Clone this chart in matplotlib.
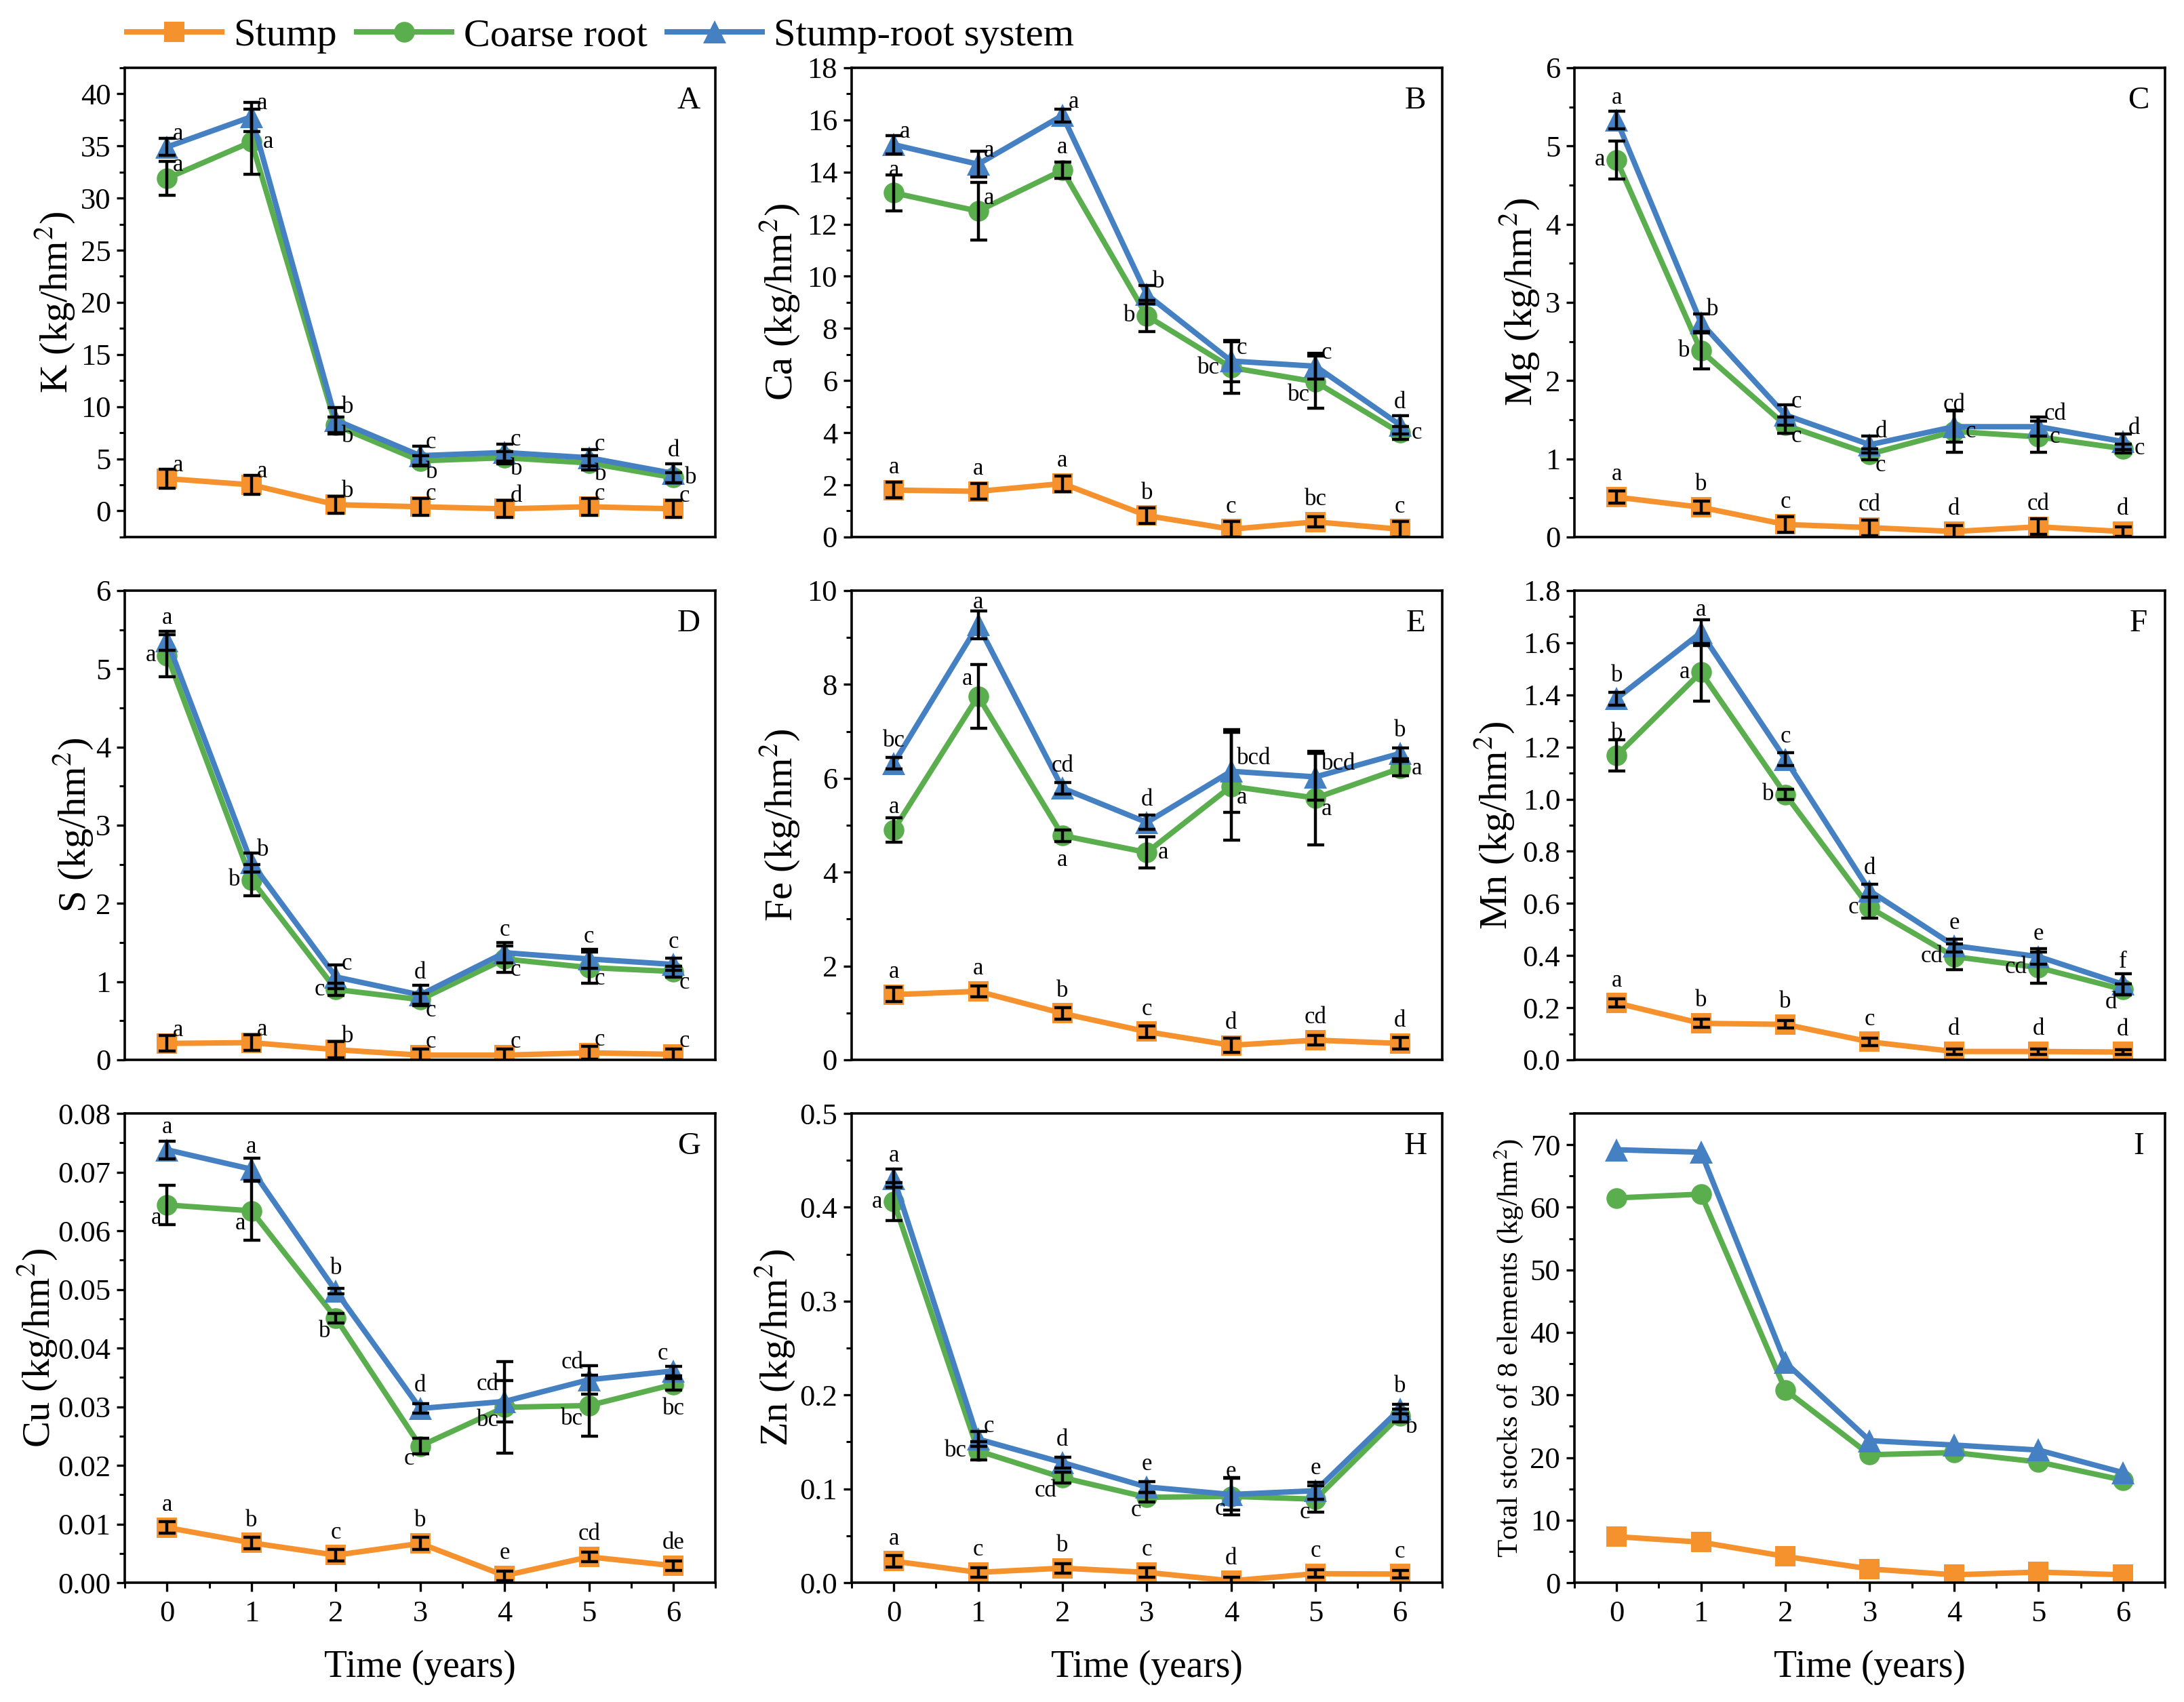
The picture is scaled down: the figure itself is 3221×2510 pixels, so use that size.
import matplotlib.pyplot as plt
from matplotlib.ticker import MultipleLocator, FormatStrFormatter
from matplotlib.lines import Line2D

plt.rcParams['font.family'] = ['Liberation Serif', 'DejaVu Serif']
plt.rcParams['mathtext.fontset'] = 'stix'

years = [0, 1, 2, 3, 4, 5, 6]
seriesNames = ['Stump', 'Coarse root', 'Stump-root system']

# K
kStump = [3.1, 2.5, 0.6, 0.4, 0.2, 0.4, 0.2]
kCoarse = [31.9, 35.4, 8.2, 4.8, 5.1, 4.6, 3.2]
kSystem = [34.9, 37.8, 8.7, 5.3, 5.6, 5.1, 3.6]
kStumpErr = [0.9, 0.9, 0.8, 0.8, 0.8, 0.8, 0.8]
kCoarseErr = [1.6, 3.1, 0.8, 0.5, 0.6, 0.7, 0.5]
kSystemErr = [0.8, 1.4, 1.2, 0.9, 0.8, 0.8, 0.9]
kLetters = [['a', 'a', 'b', 'c', 'd', 'c', 'c'],
            ['a', 'a', 'b', 'b', 'b', 'b', 'b'],
            ['a', 'a', 'b', 'c', 'c', 'c', 'd']]

# Ca
caStump = [1.8, 1.75, 2.05, 0.82, 0.3, 0.58, 0.3]
caCoarse = [13.2, 12.5, 14.07, 8.48, 6.5, 5.95, 4.0]
caSystem = [15.05, 14.3, 16.17, 9.3, 6.75, 6.55, 4.3]
caStumpErr = [0.3, 0.3, 0.3, 0.3, 0.3, 0.2, 0.3]
caCoarseErr = [0.7, 1.1, 0.3, 0.6, 1.0, 1.0, 0.25]
caSystemErr = [0.35, 0.5, 0.25, 0.35, 0.8, 0.5, 0.35]
caLetters = [['a', 'a', 'a', 'b', 'c', 'bc', 'c'],
             ['a', 'a', 'a', 'b', 'bc', 'bc', 'c'],
             ['a', 'a', 'a', 'b', 'c', 'c', 'd']]

# Mg
mgStump = [0.51, 0.38, 0.16, 0.12, 0.07, 0.13, 0.07]
mgCoarse = [4.82, 2.38, 1.43, 1.06, 1.35, 1.28, 1.13]
mgSystem = [5.33, 2.74, 1.56, 1.18, 1.41, 1.41, 1.22]
mgStumpErr = [0.08, 0.08, 0.1, 0.1, 0.08, 0.1, 0.06]
mgCoarseErr = [0.24, 0.23, 0.1, 0.07, 0.27, 0.2, 0.06]
mgSystemErr = [0.11, 0.11, 0.13, 0.11, 0.2, 0.12, 0.1]
mgLetters = [['a', 'b', 'c', 'cd', 'd', 'cd', 'd'],
             ['a', 'b', 'c', 'c', 'c', 'c', 'c'],
             ['a', 'b', 'c', 'd', 'cd', 'cd', 'd']]

# S
sStump = [0.21, 0.22, 0.13, 0.06, 0.06, 0.09, 0.07]
sCoarse = [5.17, 2.30, 0.90, 0.77, 1.29, 1.18, 1.13]
sSystem = [5.36, 2.52, 1.06, 0.83, 1.37, 1.29, 1.22]
sStumpErr = [0.1, 0.1, 0.1, 0.08, 0.08, 0.08, 0.07]
sCoarseErr = [0.27, 0.2, 0.08, 0.08, 0.17, 0.2, 0.07]
sSystemErr = [0.12, 0.12, 0.15, 0.12, 0.13, 0.12, 0.08]
sLetters = [['a', 'a', 'b', 'c', 'c', 'c', 'c'],
            ['a', 'b', 'c', 'c', 'c', 'c', 'c'],
            ['a', 'b', 'c', 'd', 'c', 'c', 'c']]

# Fe
feStump = [1.39, 1.46, 0.99, 0.60, 0.31, 0.42, 0.35]
feCoarse = [4.90, 7.75, 4.78, 4.42, 5.83, 5.58, 6.21]
feSystem = [6.32, 9.27, 5.79, 5.06, 6.15, 6.03, 6.53]
feStumpErr = [0.15, 0.12, 0.12, 0.12, 0.15, 0.1, 0.12]
feCoarseErr = [0.26, 0.68, 0.12, 0.33, 1.15, 1.0, 0.15]
feSystemErr = [0.12, 0.3, 0.12, 0.15, 0.88, 0.5, 0.12]
feLetters = [['a', 'a', 'b', 'c', 'd', 'cd', 'd'],
             ['a', 'a', 'a', 'a', 'a', 'a', 'a'],
             ['bc', 'a', 'cd', 'd', 'bcd', 'bcd', 'b']]

# Mn
mnStump = [0.218, 0.14, 0.136, 0.069, 0.032, 0.032, 0.03]
mnCoarse = [1.167, 1.487, 1.018, 0.584, 0.396, 0.354, 0.27]
mnSystem = [1.386, 1.639, 1.153, 0.648, 0.438, 0.396, 0.29]
mnStumpErr = [0.015, 0.015, 0.015, 0.015, 0.01, 0.01, 0.01]
mnCoarseErr = [0.06, 0.11, 0.02, 0.04, 0.05, 0.06, 0.02]
mnSystemErr = [0.025, 0.05, 0.025, 0.025, 0.025, 0.03, 0.04]
mnLetters = [['a', 'b', 'b', 'c', 'd', 'd', 'd'],
             ['b', 'a', 'b', 'c', 'cd', 'cd', 'd'],
             ['b', 'a', 'c', 'd', 'e', 'e', 'f']]

# Cu
cuStump = [0.0094, 0.0068, 0.0047, 0.0067, 0.0012, 0.0044, 0.0029]
cuCoarse = [0.0644, 0.0634, 0.0451, 0.0233, 0.0299, 0.0302, 0.0338]
cuSystem = [0.0738, 0.0705, 0.0497, 0.0297, 0.0309, 0.0346, 0.0361]
cuStumpErr = [0.001, 0.001, 0.001, 0.001, 0.0008, 0.0008, 0.0008]
cuCoarseErr = [0.0033, 0.005, 0.0008, 0.0013, 0.0078, 0.0052, 0.001]
cuSystemErr = [0.0015, 0.0019, 0.0005, 0.0008, 0.0035, 0.0024, 0.0008]
cuLetters = [['a', 'b', 'c', 'b', 'e', 'cd', 'de'],
             ['a', 'a', 'b', 'c', 'bc', 'bc', 'bc'],
             ['a', 'a', 'b', 'd', 'cd', 'cd', 'c']]

# Zn
znStump = [0.023, 0.011, 0.0155, 0.011, 0.002, 0.0096, 0.0092]
znCoarse = [0.406, 0.1405, 0.112, 0.091, 0.092, 0.089, 0.178]
znSystem = [0.431, 0.153, 0.128, 0.102, 0.094, 0.098, 0.185]
znStumpErr = [0.006, 0.005, 0.005, 0.005, 0.004, 0.004, 0.004]
znCoarseErr = [0.02, 0.01, 0.006, 0.005, 0.02, 0.014, 0.007]
znSystemErr = [0.01, 0.008, 0.006, 0.006, 0.017, 0.009, 0.005]
znLetters = [['a', 'c', 'b', 'c', 'd', 'c', 'c'],
             ['a', 'bc', 'cd', 'c', 'c', 'c', 'b'],
             ['a', 'c', 'd', 'e', 'e', 'e', 'b']]

# Total stocks of 8 elements
totStump = [7.36, 6.48, 4.2, 2.2, 1.26, 1.7, 1.26]
totCoarse = [61.5, 62.1, 30.8, 20.45, 20.8, 19.3, 16.4]
totSystem = [69.2, 68.8, 35.2, 22.7, 22.0, 21.2, 17.6]

colors = ['#F6922E', '#5BAE4D', '#4480C2']
markers = ['s', 'o', '^']
markerSizes = [10.5, 11, 12.5]

# where each significance letter sits relative to its point
offsets = {
    'u': (0, 6, 'center', 'bottom'),
    'ur': (3, 1, 'left', 'bottom'),
    'r': (6, 0, 'left', 'center'),
    'lr': (3, 0, 'left', 'top'),
    'd': (0, -7, 'center', 'top'),
    'll': (-3, -1, 'right', 'top'),
    'l': (-6, 0, 'right', 'center'),
    'ul': (-3, 3, 'right', 'bottom'),
}

panels = [
    dict(tag='A', ylabel='K (kg/hm$^2$)', data=[kStump, kCoarse, kSystem],
         err=[kStumpErr, kCoarseErr, kSystemErr], letters=kLetters,
         pos=['ur ur ur ur ur ur ur', 'ur r lr lr lr lr r', 'ur ur ur ur ur ur u'],
         ylim=(-2.5, 42.5), major=5, fmt='%d', labx=-0.117),
    dict(tag='B', ylabel='Ca (kg/hm$^2$)', data=[caStump, caCoarse, caSystem],
         err=[caStumpErr, caCoarseErr, caSystemErr], letters=caLetters,
         pos=['u u u u u u u', 'u ur u l l ll r', 'ur ur ur ur ur ur u'],
         ylim=(0, 18), major=2, fmt='%d', labx=-0.12),
    dict(tag='C', ylabel='Mg (kg/hm$^2$)', data=[mgStump, mgCoarse, mgSystem],
         err=[mgStumpErr, mgCoarseErr, mgSystemErr], letters=mgLetters,
         pos=['u u u u u u u', 'l l lr lr r r r', 'u ur ur ur u ur ur'],
         ylim=(0, 6), major=1, fmt='%d', labx=-0.092),
    dict(tag='D', ylabel='S (kg/hm$^2$)', data=[sStump, sCoarse, sSystem],
         err=[sStumpErr, sCoarseErr, sSystemErr], letters=sLetters,
         pos=['ur ur ur ur ur ur ur', 'l l l lr lr lr lr', 'u ur ur u u u u'],
         ylim=(0, 6), major=1, fmt='%d', labx=-0.087),
    dict(tag='E', ylabel='Fe (kg/hm$^2$)', data=[feStump, feCoarse, feSystem],
         err=[feStumpErr, feCoarseErr, feSystemErr], letters=feLetters,
         pos=['u u u u u u u', 'u ul d r lr lr r', 'u u u u ur ur u'],
         ylim=(0, 10), major=2, fmt='%d', labx=-0.12),
    dict(tag='F', ylabel='Mn (kg/hm$^2$)', data=[mnStump, mnCoarse, mnSystem],
         err=[mnStumpErr, mnCoarseErr, mnSystemErr], letters=mnLetters,
         pos=['u u u u u u u', 'u l l l l l ll', 'u u u u u u u'],
         ylim=(0, 1.8), major=0.2, fmt='%.1f', labx=-0.135),
    dict(tag='G', ylabel='Cu (kg/hm$^2$)', data=[cuStump, cuCoarse, cuSystem],
         err=[cuStumpErr, cuCoarseErr, cuSystemErr], letters=cuLetters,
         pos=['u u u u u u u', 'll ll ll ll ll ll d', 'u u u u ul ul ul'],
         ylim=(0, 0.08), major=0.01, fmt='%.2f', labx=-0.147),
    dict(tag='H', ylabel='Zn (kg/hm$^2$)', data=[znStump, znCoarse, znSystem],
         err=[znStumpErr, znCoarseErr, znSystemErr], letters=znLetters,
         pos=['u u u u u u u', 'l l ll ll ll ll lr', 'u ur u u u u u'],
         ylim=(0, 0.5), major=0.1, fmt='%.1f', labx=-0.128),
    dict(tag='I', ylabel='Total stocks of 8 elements (kg/hm$^2$)',
         data=[totStump, totCoarse, totSystem], err=None, letters=None, pos=None,
         ylim=(0, 75), major=10, fmt='%d', labx=-0.111),
]

fig = plt.figure(figsize=(16.105, 12.55), dpi=200)

colLefts = [0.0572, 0.3899, 0.7209]
rowBottoms = [0.6845, 0.3773, 0.0701]
axW, axH = 0.2704, 0.2757

for i, p in enumerate(panels):
    row, col = divmod(i, 3)
    ax = fig.add_axes([colLefts[col], rowBottoms[row], axW, axH])

    for s in range(3):
        ax.plot(years, p['data'][s], color=colors[s], marker=markers[s],
                markersize=markerSizes[s], markeredgewidth=0, linewidth=2.9,
                zorder=2 + s)
        if p['err'] is not None:
            ax.errorbar(years, p['data'][s], yerr=p['err'][s], fmt='none',
                        ecolor='black', elinewidth=1.6, capsize=4.5, capthick=1.6,
                        zorder=6)
        if p['letters'] is not None:
            codes = p['pos'][s].split()
            for x, y, txt, code in zip(years, p['data'][s], p['letters'][s], codes):
                dx, dy, ha, va = offsets[code]
                ax.annotate(txt, (x, y), xytext=(dx, dy), textcoords='offset points',
                            ha=ha, va=va, fontsize=12.5, zorder=8)

    ax.set_xlim(-0.5, 6.5)
    ax.set_ylim(*p['ylim'])
    ax.yaxis.set_major_locator(MultipleLocator(p['major']))
    ax.yaxis.set_minor_locator(MultipleLocator(p['major'] / 2))
    ax.yaxis.set_major_formatter(FormatStrFormatter(p['fmt']))
    ax.tick_params(axis='y', which='major', direction='out', length=4.5, width=1.2,
                   labelsize=16, pad=3)
    ax.tick_params(axis='y', which='minor', direction='out', length=2.8, width=1.1)

    if row == 2:
        ax.set_xticks(years)
        ax.xaxis.set_minor_locator(MultipleLocator(0.5))
        ax.tick_params(axis='x', which='major', direction='out', length=4.5, width=1.2,
                       labelsize=16, pad=5)
        ax.tick_params(axis='x', which='minor', direction='out', length=2.8, width=1.1)
        ax.set_xlabel('Time (years)', fontsize=20, va='center')
        ax.xaxis.set_label_coords(0.5, -0.18)
    else:
        ax.tick_params(axis='x', which='both', bottom=False, labelbottom=False)

    for spine in ax.spines.values():
        spine.set_linewidth(1.3)

    labelSize = 15.5 if p['tag'] == 'I' else 21
    ax.set_ylabel(p['ylabel'], fontsize=labelSize, va='center')
    ax.yaxis.set_label_coords(p['labx'], 0.5)

    ax.text(0.955, 0.93, p['tag'], transform=ax.transAxes, ha='center', va='center',
            fontsize=17)

# Legend across the top
handles = [Line2D([], [], color=colors[s], marker=markers[s], markersize=markerSizes[s],
                  markeredgewidth=0, linewidth=2.9) for s in range(3)]
fig.legend(handles, seriesNames, loc='center left', bbox_to_anchor=(0.058, 0.979),
           ncol=3, frameon=False, fontsize=21, handlelength=2.4, handletextpad=0.3,
           columnspacing=0.5, borderpad=0, borderaxespad=0)

plt.savefig('out.png', dpi=200)
